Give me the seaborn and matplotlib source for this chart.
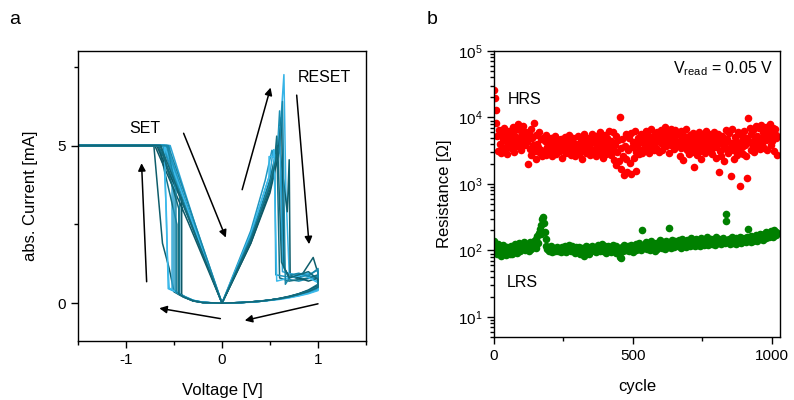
import numpy as np
import pandas as pd
import matplotlib
matplotlib.use("Agg")
import matplotlib.pyplot as plt
import seaborn as sns
from matplotlib.ticker import FixedLocator, LogLocator, NullFormatter, FuncFormatter

# ---------------- Panel a: I-V cycles (V in volts, I in mA) ----------------
c1_v = [0, -0.1, -0.2, -0.3, -0.4, -0.5, -0.56, -0.58, -0.61, -1.5, -0.57, -0.3, 0, 0.3, 0.5, 0.6, 0.645, 0.665, 0.7, 0.8, 0.9, 1.0, 1.0, 0.9, 0.8, 0.7, 0.6, 0.5, 0.4, 0.3, 0.2, 0.1, 0]
c1_i = [0, 0.01, 0.03, 0.09, 0.22, 0.38, 0.46, 2.9, 5.0, 5.0, 5.0, 2.45, 0, 2.0, 3.8, 5.2, 7.25, 3.6, 0.95, 0.85, 0.95, 0.8, 0.45, 0.35, 0.26, 0.19, 0.14, 0.1, 0.06, 0.04, 0.02, 0.01, 0]
c2_v = [0, -0.1, -0.2, -0.3, -0.4, -0.5, -0.55, -0.62, -0.71, -1.5, -0.6, -0.3, 0, 0.3, 0.5, 0.6, 0.68, 0.70, 0.71, 0.8, 0.95, 1.0, 1.0, 0.9, 0.8, 0.7, 0.6, 0.5, 0.4, 0.3, 0.2, 0.1, 0]
c2_i = [0, 0.01, 0.02, 0.07, 0.19, 0.36, 1.1, 1.9, 5.0, 5.0, 5.0, 2.4, 0, 1.9, 3.6, 4.9, 2.9, 4.55, 0.9, 0.75, 1.45, 0.95, 0.55, 0.4, 0.3, 0.21, 0.15, 0.1, 0.06, 0.04, 0.02, 0.01, 0]
c3_v = [0, -0.1, -0.2, -0.3, -0.4, -0.44, -0.44, -0.5, -0.58, -1.5, -0.62, -0.3, 0, 0.3, 0.5, 0.58, 0.6, 0.64, 0.7, 0.8, 0.9, 1.0, 1.0, 0.9, 0.8, 0.7, 0.6, 0.5, 0.4, 0.3, 0.2, 0.1, 0]
c3_i = [0, 0.01, 0.03, 0.08, 0.21, 0.28, 3.4, 4.2, 5.0, 5.0, 5.0, 2.35, 0, 2.1, 3.9, 5.0, 6.1, 1.2, 0.75, 0.7, 0.78, 0.85, 0.5, 0.36, 0.27, 0.2, 0.14, 0.1, 0.06, 0.04, 0.02, 0.01, 0]
c4_v = [0, -0.1, -0.2, -0.3, -0.4, -0.48, -0.52, -0.52, -0.55, -1.5, -0.54, -0.28, 0, 0.3, 0.5, 0.53, 0.58, 0.6, 0.63, 0.75, 0.85, 1.0, 1.0, 0.9, 0.8, 0.7, 0.6, 0.5, 0.4, 0.3, 0.2, 0.1, 0]
c4_i = [0, 0.01, 0.02, 0.08, 0.2, 0.36, 0.42, 4.0, 5.0, 5.0, 5.0, 2.5, 0, 2.2, 4.1, 4.8, 4.8, 5.6, 1.0, 0.9, 0.95, 0.7, 0.42, 0.32, 0.24, 0.18, 0.13, 0.09, 0.06, 0.04, 0.02, 0.01, 0]
c5_v = [0, -0.1, -0.2, -0.3, -0.4, -0.45, -0.47, -0.47, -0.66, -1.5, -0.66, -0.33, 0, 0.3, 0.5, 0.55, 0.57, 0.6, 0.7, 0.8, 0.9, 1.0, 1.0, 0.9, 0.8, 0.7, 0.6, 0.5, 0.4, 0.3, 0.2, 0.1, 0]
c5_i = [0, 0.01, 0.02, 0.07, 0.2, 0.28, 0.33, 2.5, 5.0, 5.0, 5.0, 2.55, 0, 2.0, 3.9, 4.6, 5.3, 0.8, 0.7, 0.75, 0.8, 0.9, 0.6, 0.42, 0.3, 0.22, 0.15, 0.1, 0.07, 0.04, 0.02, 0.01, 0]
c6_v = [0, -0.1, -0.2, -0.3, -0.4, -0.46, -0.5, -0.5, -0.6, -1.5, -0.58, -0.29, 0, 0.3, 0.45, 0.52, 0.55, 0.56, 0.65, 0.8, 0.9, 1.0, 1.0, 0.9, 0.8, 0.7, 0.6, 0.5, 0.4, 0.3, 0.2, 0.1, 0]
c6_i = [0, 0.01, 0.03, 0.09, 0.23, 0.33, 0.4, 3.8, 5.0, 5.0, 5.0, 2.45, 0, 2.3, 3.9, 4.85, 4.7, 0.9, 0.85, 0.8, 0.9, 1.05, 0.48, 0.36, 0.27, 0.2, 0.14, 0.1, 0.06, 0.04, 0.02, 0.01, 0]
c7_v = [0, -0.1, -0.2, -0.3, -0.38, -0.42, -0.42, -0.55, -0.68, -1.5, -0.7, -0.35, 0, 0.3, 0.5, 0.58, 0.62, 0.65, 0.7, 0.8, 0.9, 1.0, 1.0, 0.9, 0.8, 0.7, 0.6, 0.5, 0.4, 0.3, 0.2, 0.1, 0]
c7_i = [0, 0.01, 0.02, 0.07, 0.18, 0.27, 3.3, 4.1, 5.0, 5.0, 5.0, 2.55, 0, 1.9, 3.5, 4.6, 5.9, 1.1, 0.85, 0.8, 0.7, 0.8, 0.55, 0.4, 0.29, 0.21, 0.15, 0.1, 0.07, 0.04, 0.02, 0.01, 0]
c8_v = [0, -0.1, -0.2, -0.3, -0.4, -0.5, -0.55, -0.57, -0.6, -1.5, -0.6, -0.3, 0, 0.3, 0.49, 0.49, 0.54, 0.54, 0.57, 0.7, 0.85, 1.0, 1.0, 0.9, 0.8, 0.7, 0.6, 0.5, 0.4, 0.3, 0.2, 0.1, 0]
c8_i = [0, 0.01, 0.03, 0.09, 0.22, 0.39, 0.48, 1.5, 5.0, 5.0, 5.0, 2.5, 0, 2.2, 4.0, 4.65, 4.65, 4.87, 0.7, 0.8, 0.9, 0.65, 0.4, 0.3, 0.23, 0.17, 0.12, 0.09, 0.06, 0.03, 0.02, 0.01, 0]
c9_v = [0, -0.1, -0.2, -0.3, -0.4, -0.45, -0.48, -0.48, -0.57, -1.5, -0.56, -0.28, 0, 0.3, 0.5, 0.6, 0.63, 0.66, 0.72, 0.8, 0.9, 1.0, 1.0, 0.9, 0.8, 0.7, 0.6, 0.5, 0.4, 0.3, 0.2, 0.1, 0]
c9_i = [0, 0.01, 0.02, 0.08, 0.21, 0.3, 0.36, 3.6, 5.0, 5.0, 5.0, 2.5, 0, 2.1, 3.8, 5.0, 6.4, 0.6, 0.9, 0.95, 0.85, 1.1, 0.52, 0.38, 0.28, 0.2, 0.14, 0.1, 0.06, 0.04, 0.02, 0.01, 0]
c10_v = [0, -0.1, -0.2, -0.3, -0.4, -0.43, -0.45, -0.45, -0.64, -1.5, -0.64, -0.32, 0, 0.3, 0.5, 0.56, 0.58, 0.62, 0.7, 0.8, 0.9, 1.0, 1.0, 0.9, 0.8, 0.7, 0.6, 0.5, 0.4, 0.3, 0.2, 0.1, 0]
c10_i = [0, 0.01, 0.02, 0.08, 0.2, 0.26, 0.3, 3.0, 5.0, 5.0, 5.0, 2.5, 0, 2.0, 3.7, 4.5, 5.0, 1.3, 0.8, 0.9, 1.0, 0.75, 0.5, 0.37, 0.28, 0.2, 0.14, 0.1, 0.06, 0.04, 0.02, 0.01, 0]

cycles_v = [c1_v, c2_v, c3_v, c4_v, c5_v, c6_v, c7_v, c8_v, c9_v, c10_v]
cycles_i = [c1_i, c2_i, c3_i, c4_i, c5_i, c6_i, c7_i, c8_i, c9_i, c10_i]
cycle_colors = ["#35b3e6", "#0e5d6b", "#1b8db0", "#2ba5d6", "#136f82",
                "#1f97c2", "#0d5866", "#3bbaeb", "#1887a8", "#126878"]

# ---------------- Panel b: endurance (every 3rd cycle) ----------------
hrs_kohm = [
    26.0, 19.5, 13.0, 8.4, 5.2, 3.1, 6.5, 4.0, 2.9, 5.8, 3.6, 4.7, 6.9, 3.2, 4.4, 5.5, 2.8, 3.9, 6.2, 4.8,
    3.5, 5.9, 4.2, 7.1, 3.0, 5.3, 6.6, 4.5, 3.7, 8.1, 5.0, 4.1, 6.3, 3.3, 5.7, 7.4, 4.6, 3.9, 6.0, 5.2,
    4.3, 2.0, 5.6, 3.4, 6.8, 2.7, 4.9, 3.8, 8.4, 3.1, 5.5, 2.4, 4.0, 3.6, 6.1, 2.9, 4.7, 3.3, 2.6, 5.0,
    3.0, 4.5, 2.7, 5.4, 3.6, 4.1, 2.9, 3.4, 5.0, 3.8, 2.6, 4.4, 3.2, 5.3, 3.9, 2.8, 4.7, 3.5, 4.0, 3.1,
    4.8, 3.3, 2.5, 4.2, 3.7, 5.1, 2.9, 3.6, 4.5, 3.0, 5.5, 3.8, 2.7, 4.3, 3.4, 4.9, 3.1, 2.6, 4.0, 3.5,
    3.9, 5.2, 2.8, 3.5, 4.6, 3.1, 2.4, 4.2, 5.6, 3.3, 3.8, 2.9, 4.8, 3.6, 5.0, 2.7, 4.1, 3.4, 5.7, 3.0,
    4.4, 3.2, 2.6, 5.3, 3.7, 4.0, 2.9, 6.0, 3.5, 4.7, 3.1, 2.5, 4.3, 5.4, 3.8, 2.8, 4.9, 3.3, 6.2, 3.6,
    2.7, 4.5, 3.4, 6.1, 2.3, 3.9, 5.2, 1.9, 3.0, 4.6, 2.2, 10.2, 3.5, 1.7, 4.8, 2.6, 1.35, 3.7, 5.6, 2.4,
    1.5, 3.2, 4.9, 2.1, 5.9, 1.4, 3.6, 4.3, 2.5, 6.2, 3.0, 1.55, 3.9, 5.0, 2.8, 4.4, 3.3, 5.6, 2.9, 4.1,
    5.1, 3.4, 4.6, 6.3, 3.8, 5.5, 2.9, 4.2, 6.8, 3.6, 5.0, 4.0, 3.2, 5.8, 4.5, 3.5, 6.1, 4.8, 3.0, 5.3,
    4.1, 6.5, 3.3, 5.2, 4.6, 7.1, 3.7, 5.6, 4.3, 6.0, 2.9, 5.0, 6.8, 3.9, 4.7, 5.9, 3.4, 6.4, 4.4, 5.4,
    3.8, 5.7, 4.2, 2.6, 6.2, 3.5, 4.9, 2.3, 5.3, 3.9, 4.5, 6.6, 3.2, 4.0, 2.8, 5.5, 3.6, 4.7, 3.0, 5.9,
    1.8, 4.3, 3.4, 5.0, 2.7, 3.9, 6.0, 3.1, 4.6, 2.4, 5.4, 3.7, 4.1, 2.9, 6.3, 3.5, 4.8, 3.2, 5.6, 4.0,
    3.3, 5.2, 2.8, 4.4, 6.1, 3.6, 2.5, 4.9, 3.9, 5.7, 1.5, 3.1, 4.6, 2.6, 5.3, 3.8, 2.2, 4.2, 6.4, 3.4,
    4.7, 2.9, 5.8, 3.5, 1.3, 4.1, 6.7, 3.2, 2.4, 5.1, 3.7, 4.5, 2.7, 6.0, 3.0, 0.92, 4.3, 5.5, 3.6, 2.8,
    6.2, 3.9, 5.0, 2.6, 1.25, 9.8, 4.4, 7.0, 3.3, 5.6, 4.0, 6.5, 3.0, 4.8, 7.5, 3.6, 5.3, 4.2, 6.9, 3.4,
    5.0, 7.8, 4.1, 6.0, 3.5, 5.6, 7.2, 4.6, 3.2, 6.4, 5.2, 8.0, 3.8, 5.9, 4.4, 7.0, 3.1, 6.7, 4.9, 5.5,
    2.7,
]
lrs_ohm = [
    140, 118, 95, 108, 88, 125, 100, 92, 115, 84, 103, 120, 97, 110, 86, 99, 112, 94, 106, 90,
    102, 116, 89, 108, 96, 124, 100, 111, 93, 105, 128, 98, 114, 104, 120, 109, 132, 101, 118, 107,
    112, 125, 98, 135, 118, 106, 128, 115, 140, 122, 110, 150, 165, 130, 185, 210, 175, 240, 300, 320,
    260, 190, 150, 118, 105, 112, 98, 108, 101, 115, 96, 104, 110, 99, 107, 102, 113, 97, 105, 100,
    108, 95, 112, 103, 99, 117, 106, 94, 110, 101, 120, 104, 97, 109, 115, 100, 106, 93, 111, 103,
    98, 107, 114, 90, 103, 96, 110, 100, 82, 106, 118, 95, 101, 112, 88, 104, 109, 97, 115, 102,
    106, 99, 113, 94, 108, 120, 101, 97, 111, 104, 125, 98, 107, 115, 93, 110, 102, 118, 100, 108,
    112, 96, 104, 119, 100, 108, 93, 115, 102, 110, 99, 80, 78, 106, 113, 97, 121, 104, 100, 109,
    103, 115, 98, 110, 122, 105, 112, 96, 118, 108, 125, 100, 114, 106, 130, 111, 102, 119, 200, 116,
    120, 108, 135, 112, 104, 126, 115, 100, 118, 140, 109, 122, 114, 98, 130, 117, 106, 125, 112, 145,
    118, 128, 110, 135, 121, 106, 140, 116, 125, 112, 220, 132, 119, 109, 145, 124, 114, 138, 120, 130,
    126, 115, 142, 120, 133, 110, 150, 124, 118, 136, 128, 113, 145, 122, 131, 117, 155, 126, 120, 138,
    129, 118, 147, 125, 135, 121, 140, 116, 152, 130, 124, 138, 119, 145, 132, 127, 160, 123, 136, 142,
    130, 148, 125, 140, 135, 122, 158, 133, 144, 128, 150, 137, 126, 146, 132, 155, 139, 128, 350, 280,
    142, 134, 150, 127, 145, 138, 160, 131, 148, 140, 125, 155, 136, 149, 133, 162, 141, 130, 152, 144,
    138, 155, 146, 132, 160, 210, 142, 150, 135, 165, 148, 140, 158, 145, 170, 152, 138, 162, 155, 175,
    150, 168, 158, 145, 180, 162, 155, 190, 165, 172, 158, 185, 168, 195, 175, 160, 200, 178, 170, 188,
    182,
]
cycle_no = np.arange(0, 3 * len(hrs_kohm), 3)

# ---------------- style ----------------
sns.set_style("ticks")
plt.rcParams["font.family"] = ["Liberation Sans", "DejaVu Sans"]
plt.rcParams["mathtext.fontset"] = "custom"
plt.rcParams["mathtext.rm"] = "Liberation Sans"
plt.rcParams["mathtext.it"] = "Liberation Sans:italic"
plt.rcParams["axes.linewidth"] = 1.0
plt.rcParams["axes.edgecolor"] = "black"
plt.rcParams["axes.labelcolor"] = "black"
plt.rcParams["text.color"] = "black"
plt.rcParams["xtick.color"] = "black"
plt.rcParams["ytick.color"] = "black"
plt.rcParams["xtick.labelcolor"] = "black"
plt.rcParams["ytick.labelcolor"] = "black"

fig = plt.figure(figsize=(7.94, 4.0), dpi=100)
axa = fig.add_axes([78 / 794, 1 - 341 / 400, 288 / 794, 290 / 400])
axb = fig.add_axes([494 / 794, 1 - 337 / 400, 286 / 794, 286 / 400])

# Panel a
for v, i, col in zip(cycles_v, cycles_i, cycle_colors):
    sns.lineplot(x=v, y=i, sort=False, estimator=None, color=col, lw=1.1, ax=axa)
axa.set_xlim(-1.5, 1.5)
axa.set_ylim(-1.2, 8)
axa.xaxis.set_major_locator(FixedLocator([-1, 0, 1]))
axa.xaxis.set_minor_locator(FixedLocator([-1.5, -0.5, 0.5, 1.5]))
axa.yaxis.set_major_locator(FixedLocator([0, 5]))
axa.yaxis.set_minor_locator(FixedLocator([2.5, 7.5]))
axa.xaxis.set_major_formatter(FuncFormatter(lambda x, p: f"{x:g}"))
axa.set_xlabel("Voltage [V]", fontsize=12, labelpad=12)
axa.set_ylabel("abs. Current [mA]", fontsize=12, labelpad=14)
for s in axa.spines.values():
    s.set_visible(True)

arrow_kw = dict(arrowstyle="-|>", color="black", lw=1.1, mutation_scale=11, shrinkA=0, shrinkB=0)
arrows = [((-0.785, 0.68), (-0.838, 4.44)),
          ((-0.40, 5.39), (0.04, 2.08)),
          ((0.21, 3.6), (0.506, 6.84)),
          ((0.778, 6.6), (0.907, 1.87)),
          ((1.0, -0.02), (0.237, -0.55)),
          ((-0.017, -0.49), (-0.653, -0.16))]
for tail, tip in arrows:
    axa.annotate("", xy=tip, xytext=tail, arrowprops=arrow_kw)
axa.text(-0.80, 5.55, "SET", fontsize=11.5, ha="center", va="center")
axa.text(1.07, 7.15, "RESET", fontsize=11.5, ha="center", va="center")

# Panel b
sns.scatterplot(x=cycle_no, y=np.array(hrs_kohm) * 1000, color="#ff0000", s=30,
                linewidth=0, ax=axb)
sns.scatterplot(x=cycle_no, y=lrs_ohm, color="#008000", s=30, linewidth=0, ax=axb)
axb.set_yscale("log")
axb.set_ylim(5, 1e5)
axb.set_xlim(0, 1030)
axb.xaxis.set_major_locator(FixedLocator([0, 500, 1000]))
axb.xaxis.set_minor_locator(FixedLocator([250, 750]))
axb.yaxis.set_major_locator(FixedLocator([1e1, 1e2, 1e3, 1e4, 1e5]))
axb.yaxis.set_minor_locator(LogLocator(base=10, subs=np.arange(2, 10), numticks=20))
axb.yaxis.set_minor_formatter(NullFormatter())
axb.yaxis.set_major_formatter(FuncFormatter(lambda y, p: r"$\mathregular{10^{%d}}$" % round(np.log10(y))))
axb.set_xlabel("cycle", fontsize=12, labelpad=12)
axb.set_ylabel("Resistance [\u03a9]", fontsize=12, labelpad=4)
for s in axb.spines.values():
    s.set_visible(True)
axb.text(0.108, 0.832, "HRS", transform=axb.transAxes, fontsize=11.5, ha="center", va="center")
axb.text(0.10, 0.189, "LRS", transform=axb.transAxes, fontsize=11.5, ha="center", va="center")
axb.text(0.975, 0.937, r"V$_{\mathregular{read}}$ = 0.05 V", transform=axb.transAxes,
         fontsize=11.5, ha="right", va="center")

for ax in (axa, axb):
    ax.tick_params(which="major", direction="out", length=5, width=1, labelsize=11,
                   top=False, right=False, colors="black")
    ax.tick_params(which="minor", direction="out", length=3, width=1,
                   top=False, right=False, colors="black")

fig.text(15 / 794, 1 - 20 / 400, "a", fontsize=14, ha="center", va="center")
fig.text(432 / 794, 1 - 20 / 400, "b", fontsize=14, ha="center", va="center")

fig.savefig("out.png", dpi=100)
